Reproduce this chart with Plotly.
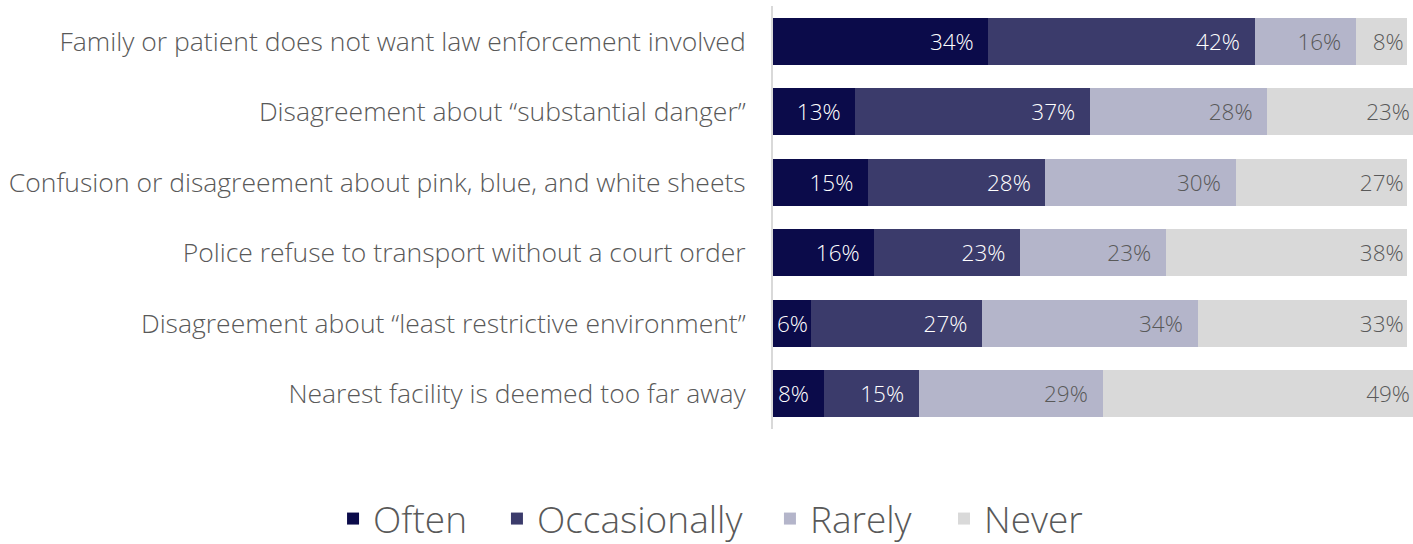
import plotly.graph_objects as go

categories = [
    "Family or patient does not want law enforcement involved",
    "Disagreement about \u201csubstantial danger\u201d",
    "Confusion or disagreement about pink, blue, and white sheets",
    "Police refuse to transport without a court order",
    "Disagreement about \u201cleast restrictive environment\u201d",
    "Nearest facility is deemed too far away",
]
series_names = ["Often", "Occasionally", "Rarely", "Never"]
often = [34, 13, 15, 16, 6, 8]
occasionally = [42, 37, 28, 23, 27, 15]
rarely = [16, 28, 30, 23, 34, 29]
never = [8, 23, 27, 38, 33, 49]

colors = ["#0b0b4a", "#3b3b6b", "#b4b5ca", "#d9d9d9"]
text_colors = ["#ffffff", "#ffffff", "#595959", "#595959"]
FONT = "Open Sans"
NBSP = "\u00a0"
legend_ids = ["legend", "legend2", "legend3", "legend4"]
legend_x = [0.2357, 0.3517, 0.5449, 0.6681]   # left edge of each legend entry (container units)

fig = go.Figure()
for i, (name, vals) in enumerate(zip(series_names, [often, occasionally, rarely, never])):
    if i == 3:
        labels = [f"{v}%" for v in vals]
    else:
        labels = [f"{v}%" + (NBSP * 2 if v >= 8 else "") for v in vals]
    fig.add_trace(go.Bar(
        y=categories, x=vals, name=name, orientation="h",
        legend=legend_ids[i],
        marker=dict(color=colors[i], line=dict(width=0)),
        text=labels, textposition="inside", insidetextanchor="end",
        textangle=0, constraintext="none",
        insidetextfont=dict(family=FONT, size=22.5, color=text_colors[i], weight=300),
        hoverinfo="skip",
    ))

legend_style = dict(orientation="h", xref="container", xanchor="left",
                    y=-0.2128, yanchor="middle",
                    bgcolor="rgba(0,0,0,0)",
                    font=dict(family=FONT, size=37, color="#595959", weight=300))

fig.update_layout(
    width=1413, height=544,
    barmode="stack", bargap=0.333,
    plot_bgcolor="white", paper_bgcolor="white",
    margin=dict(l=773, r=0, t=6, b=115, autoexpand=False),
    font=dict(family=FONT, color="#595959"),
    xaxis=dict(range=[0, 101], visible=False, fixedrange=True),
    yaxis=dict(autorange="reversed", showline=True, linecolor="#d9d9d9", linewidth=2,
               showgrid=False, ticks="", ticklabelstandoff=20, fixedrange=True,
               tickfont=dict(family=FONT, size=26.5, color="#595959", weight=300)),
    showlegend=True,
)
fig.update_layout({lid: dict(legend_style, x=lx) for lid, lx in zip(legend_ids, legend_x)})

# remove the browser's default 8px page margin so the figure fills the window exactly
fig.write_html("out.html", config={"displayModeBar": False},
               post_script="document.body.style.margin='0';")
